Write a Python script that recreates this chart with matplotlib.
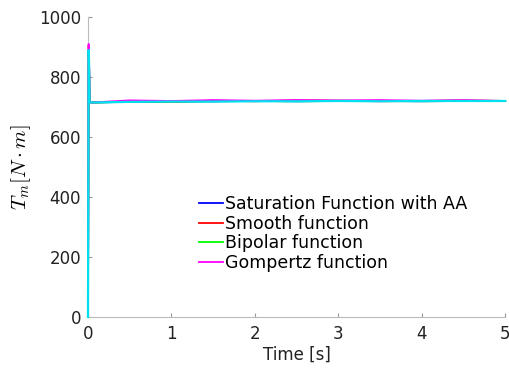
import matplotlib.pyplot as plt

# -----------------------------
# Data
# -----------------------------
time = [0.0, 0.004, 0.008, 0.012, 0.02, 0.05, 0.5, 1.0, 1.5, 2.0, 2.5, 3.0, 3.5, 4.0, 4.5, 5.0]

sat_aa = [0, 450, 880, 860, 716, 715, 717, 718, 719, 720, 719, 720, 720, 719, 720, 720]
smooth = [0, 470, 905, 870, 716, 715, 718, 717, 721, 719, 722, 721, 719, 720, 722, 720]
bipolar = [0, 450, 885, 860, 716, 715, 717, 718, 719, 720, 719, 720, 720, 719, 720, 720]
gompertz = [0, 470, 910, 870, 716, 715, 722, 720, 723, 721, 723, 722, 723, 721, 723, 720]
cyan_ref = [0, 440, 890, 860, 716, 715, 717, 718, 718, 719, 719, 720, 719, 720, 720, 720]

labels = ["Saturation Function with AA", "Smooth function", "Bipolar function", "Gompertz function"]

x_ticks = [0, 1, 2, 3, 4, 5]
y_ticks = [0, 200, 400, 600, 800, 1000]

# -----------------------------
# Plot
# -----------------------------
plt.rcParams["font.family"] = "DejaVu Sans"
plt.rcParams["mathtext.fontset"] = "cm"

fig = plt.figure(figsize=(5.1, 3.69), dpi=100)
ax = fig.add_axes([0.1725, 0.141, 0.818, 0.813])

line_kw = dict(zorder=3, clip_on=False)
ax.plot(time, sat_aa, color="#0000FF", linewidth=1.3, label=labels[0], **line_kw)
ax.plot(time, smooth, color="#FF0000", linewidth=1.3, label=labels[1], **line_kw)
ax.plot(time, bipolar, color="#00FF00", linewidth=1.3, label=labels[2], **line_kw)
ax.plot(time, gompertz, color="#FF00FF", linewidth=1.3, label=labels[3], **line_kw)
ax.plot(time, cyan_ref, color="#00E0EE", linewidth=1.6, **line_kw)

ax.set_xlim(0, 5)
ax.set_ylim(0, 1000)
ax.set_xticks(x_ticks)
ax.set_yticks(y_ticks)

ax.spines["top"].set_visible(False)
ax.spines["right"].set_visible(False)
for side in ["left", "bottom"]:
    ax.spines[side].set_color("#BBBBBB")
    ax.spines[side].set_linewidth(0.8)

ax.tick_params(direction="in", length=3, color="#999999", labelsize=12,
               labelcolor="#222222")
ax.tick_params(axis="x", pad=6)
ax.tick_params(axis="y", pad=5)

ax.set_xlabel("Time [s]", fontsize=12, labelpad=2, color="#222222")
ax.set_ylabel(r"$T_m[N \cdot m]$", fontsize=15, labelpad=4)

ax.legend(
    loc="upper left",
    bbox_to_anchor=(0.265, 0.405),
    frameon=False,
    fontsize=12.5,
    handlelength=1.4,
    handletextpad=0.15,
    labelspacing=0.08,
    borderaxespad=0,
    borderpad=0
)

fig.savefig("out.png", dpi=100, facecolor="white")
